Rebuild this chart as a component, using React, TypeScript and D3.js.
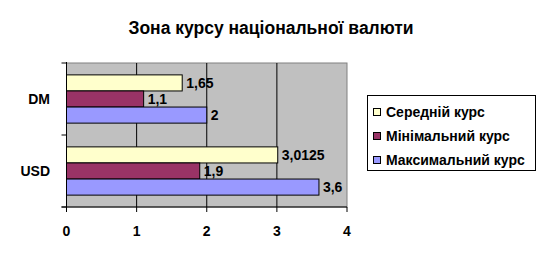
import React from "react";
import * as d3 from "d3";

const categories = ["DM", "USD"];
const seriesNames = ["Середній курс", "Мінімальний курс", "Максимальний курс"];
const seriesColors = ["#FFFFCC", "#993366", "#9999FF"];
const averageRate = [1.65, 3.0125];
const minRate = [1.1, 1.9];
const maxRate = [2, 3.6];
const xTicks = [0, 1, 2, 3, 4];
const labels = [["1,65", "3,0125"], ["1,1", "1,9"], ["2", "3,6"]];

export default function App() {
  const W = 548, H = 262;
  const left = 66.5, right = 347, top = 63, bottom = 207;
  const x = d3.scaleLinear().domain([0, 4]).range([left, right]);
  const y0 = d3.scaleBand().domain(categories).range([top, bottom]).paddingInner(0.33).paddingOuter(0.165);
  const series = [averageRate, minRate, maxRate];
  const y1 = d3.scaleBand().domain(["0", "1", "2"]).range([0, y0.bandwidth()]);
  const font = "Arial, 'Liberation Sans', sans-serif";
  const catBounds = [top, (top + bottom) / 2, bottom];
  return (
    <svg width={W} height={H} style={{ position: "absolute", left: 0, top: 0, fontFamily: font }}>
      <rect x={0} y={0} width={W} height={H} fill="#fff" />
      <text x={271} y={34} textAnchor="middle" fontSize={17.5} fontWeight="bold">Зона курсу національної валюти</text>
      <rect x={left} y={top} width={right - left} height={bottom - top} fill="#C0C0C0" stroke="#808080" strokeWidth={1} />
      {xTicks.slice(1, 4).map((t) => (
        <line key={t} x1={x(t)} x2={x(t)} y1={top} y2={bottom} stroke="#000" strokeWidth={1} />
      ))}
      {series.map((vals, si) =>
        categories.map((c, ci) => {
          const yy = (y0(c) as number) + (y1(String(si)) as number);
          return (
            <g key={si + "-" + ci}>
              <rect x={x(0)} y={yy} width={x(vals[ci]) - x(0)} height={y1.bandwidth()} fill={seriesColors[si]} stroke="#000" strokeWidth={1} />
              <text x={x(vals[ci]) + 4} y={yy + y1.bandwidth() / 2 + 5} fontSize={14} fontWeight="bold">{labels[si][ci]}</text>
            </g>
          );
        })
      )}
      <line x1={left} x2={left} y1={top - 1} y2={bottom} stroke="#000" />
      <line x1={left - 5} x2={right} y1={bottom} y2={bottom} stroke="#000" />
      {catBounds.map((b, i) => (
        <line key={i} x1={left - 5} x2={left} y1={b} y2={b} stroke="#000" />
      ))}
      {xTicks.map((t) => (
        <g key={t}>
          <line x1={x(t)} x2={x(t)} y1={bottom} y2={bottom + 5} stroke="#000" />
          <text x={x(t)} y={236} textAnchor="middle" fontSize={14} fontWeight="bold">{t}</text>
        </g>
      ))}
      {categories.map((c) => (
        <text key={c} x={50} y={(y0(c) as number) + y0.bandwidth() / 2 + 5} textAnchor="end" fontSize={14} fontWeight="bold">{c}</text>
      ))}
      <rect x={367.5} y={95.5} width={168} height={75} fill="#fff" stroke="#000" />
      {seriesNames.map((n, i) => (
        <g key={n}>
          <rect x={373.5} y={108.5 + i * 24} width={7} height={7} fill={seriesColors[i]} stroke="#000" />
          <text x={386} y={117 + i * 24} fontSize={14} fontWeight="bold">{n}</text>
        </g>
      ))}
    </svg>
  );
}
